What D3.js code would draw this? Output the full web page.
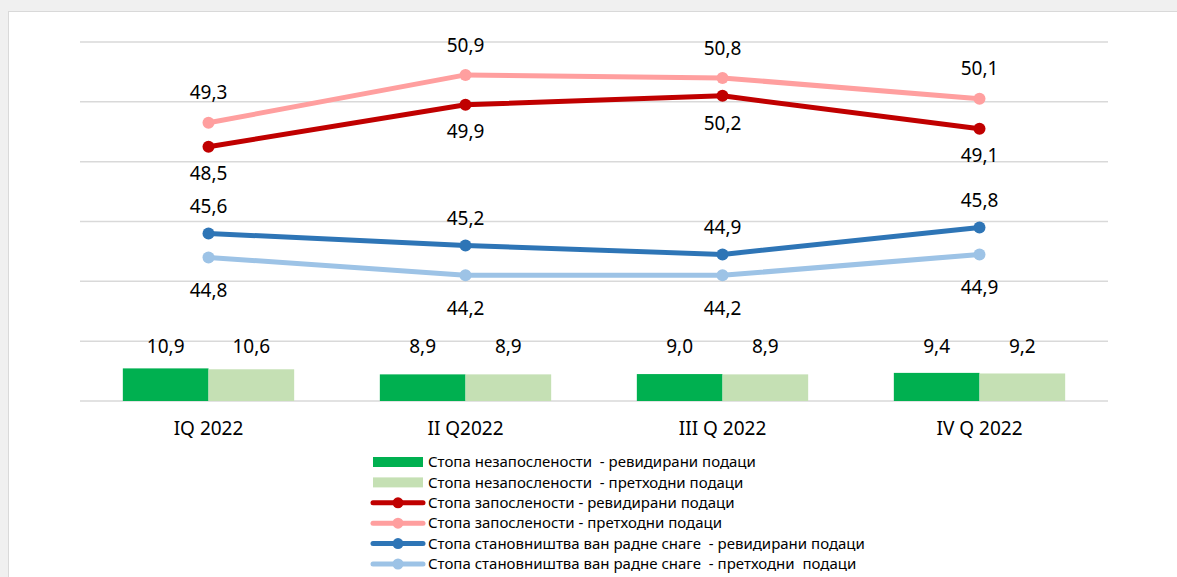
<!DOCTYPE html>
<html>
<head>
<meta charset="utf-8">
<script src="https://cdn.jsdelivr.net/npm/d3@7"></script>
<style>
  html, body { margin: 0; padding: 0; background: #f0f0f0; }
  svg { display: block; font-family: "Noto Sans", sans-serif; }
  .legend text { white-space: pre; }
</style>
</head>
<body>
<div id="chart"></div>
<script>
const categories = ["IQ 2022", "II Q2022", "III Q 2022", "IV Q 2022"];

const unemploymentRevised = [10.9, 8.9, 9.0, 9.4];
const unemploymentPrevious = [10.6, 8.9, 8.9, 9.2];
const employmentRevised = [48.5, 49.9, 50.2, 49.1];
const employmentPrevious = [49.3, 50.9, 50.8, 50.1];
const inactivityRevised = [45.6, 45.2, 44.9, 45.8];
const inactivityPrevious = [44.8, 44.2, 44.2, 44.9];

const barTicks = [0, 20, 40, 60, 80, 100, 120];

const legendLabels = [
  "Стопа незапослености  - ревидирани подаци",
  "Стопа незапослености  - претходни подаци",
  "Стопа запослености - ревидирани подаци",
  "Стопа запослености - претходни подаци",
  "Стопа становништва ван радне снаге  - ревидирани подаци",
  "Стопа становништва ван радне снаге  - претходни  подаци"
];

const width = 1177;
const height = 577;
const margin = { top: 42, right: 69, bottom: 176, left: 80 };

const svg = d3.select("#chart")
  .append("svg")
  .attr("width", width)
  .attr("height", height);

// chart frame
svg.append("rect")
  .attr("x", 8.5)
  .attr("y", 11.5)
  .attr("width", width)
  .attr("height", height)
  .attr("fill", "#fff")
  .attr("stroke", "#d9d9d9");

const x = d3.scaleBand()
  .domain(categories)
  .range([margin.left, width - margin.right]);

const xSub = d3.scaleBand()
  .domain([0, 1])
  .range([0, x.bandwidth()])
  .paddingOuter(0.5);

const yBar = d3.scaleLinear()
  .domain([0, 120])
  .range([height - margin.bottom, margin.top]);

const yLine = d3.scaleLinear()
  .domain([40, 52])
  .range([height - margin.bottom, margin.top]);

// gridlines
svg.append("g")
  .attr("class", "grid")
  .selectAll("line")
  .data(barTicks)
  .join("line")
  .attr("x1", margin.left)
  .attr("x2", width - margin.right)
  .attr("y1", (d) => yBar(d))
  .attr("y2", (d) => yBar(d))
  .attr("stroke", "#d9d9d9")
  .attr("stroke-width", 1.5);

// x axis labels
const xAxis = d3.axisBottom(x).tickSize(0).tickPadding(0);
const xg = svg.append("g")
  .attr("transform", `translate(0,${height - margin.bottom})`)
  .call(xAxis);
xg.select(".domain").remove();
xg.selectAll("text")
  .attr("y", 27)
  .attr("dy", "0.35em")
  .attr("font-size", 19)
  .attr("font-family", "Noto Sans")
  .attr("fill", "#000");

const fmt = (v) => d3.format(".1f")(v).replace(".", ",");

// bars
const barSeries = [
  { values: unemploymentRevised, color: "#00b050" },
  { values: unemploymentPrevious, color: "#c5e0b4" }
];

barSeries.forEach((s, i) => {
  const g = svg.append("g");
  g.selectAll("rect")
    .data(s.values)
    .join("rect")
    .attr("x", (d, j) => x(categories[j]) + xSub(i))
    .attr("width", xSub.bandwidth())
    .attr("y", (d) => yBar(d))
    .attr("height", (d) => yBar(0) - yBar(d))
    .attr("fill", s.color);

  g.selectAll("text")
    .data(s.values)
    .join("text")
    .attr("x", (d, j) => x(categories[j]) + xSub(i) + xSub.bandwidth() / 2)
    .attr("y", yBar(0) - 55)
    .attr("dy", "0.35em")
    .attr("text-anchor", "middle")
    .attr("font-size", 19)
    .text((d) => fmt(d));
});

// lines
const lineSeries = [
  { values: employmentPrevious, color: "#ff9f9f", labelDy: -30 },
  { values: employmentRevised, color: "#c00000", labelDy: 27 },
  { values: inactivityPrevious, color: "#9dc3e6", labelDy: 33 },
  { values: inactivityRevised, color: "#2e75b6", labelDy: -27 }
];

const cx = (j) => x(categories[j]) + x.bandwidth() / 2;

const lineGen = d3.line()
  .x((d, j) => cx(j))
  .y((d) => yLine(d));

lineSeries.forEach((s) => {
  const g = svg.append("g");
  g.append("path")
    .datum(s.values)
    .attr("fill", "none")
    .attr("stroke", s.color)
    .attr("stroke-width", 5)
    .attr("stroke-linejoin", "round")
    .attr("d", lineGen);

  g.selectAll("circle")
    .data(s.values)
    .join("circle")
    .attr("cx", (d, j) => cx(j))
    .attr("cy", (d) => yLine(d))
    .attr("r", 6)
    .attr("fill", s.color);

  g.selectAll("text")
    .data(s.values)
    .join("text")
    .attr("x", (d, j) => cx(j))
    .attr("y", (d) => yLine(d) + s.labelDy)
    .attr("dy", "0.35em")
    .attr("text-anchor", "middle")
    .attr("font-size", 19)
    .text((d) => fmt(d));
});

// legend
const legendItems = [
  { type: "bar", color: "#00b050" },
  { type: "bar", color: "#c5e0b4" },
  { type: "line", color: "#c00000" },
  { type: "line", color: "#ff9f9f" },
  { type: "line", color: "#2e75b6" },
  { type: "line", color: "#9dc3e6" }
].map((d, i) => ({ ...d, label: legendLabels[i] }));

const legend = svg.append("g")
  .attr("class", "legend")
  .attr("transform", "translate(373,462)");

const items = legend.selectAll("g")
  .data(legendItems)
  .join("g")
  .attr("transform", (d, i) => `translate(0,${i * 20.4})`);

items.filter((d) => d.type === "bar")
  .append("rect")
  .attr("x", 0)
  .attr("y", -5)
  .attr("width", 50)
  .attr("height", 10)
  .attr("fill", (d) => d.color);

items.filter((d) => d.type === "line")
  .append("line")
  .attr("x1", 0)
  .attr("x2", 50)
  .attr("stroke", (d) => d.color)
  .attr("stroke-width", 5)
  .attr("stroke-linecap", "round");

items.filter((d) => d.type === "line")
  .append("circle")
  .attr("cx", 25)
  .attr("r", 5.5)
  .attr("fill", (d) => d.color);

items.append("text")
  .attr("x", 55)
  .attr("dy", "0.35em")
  .attr("font-size", 15)
  .text((d) => d.label);
</script>
</body>
</html>
